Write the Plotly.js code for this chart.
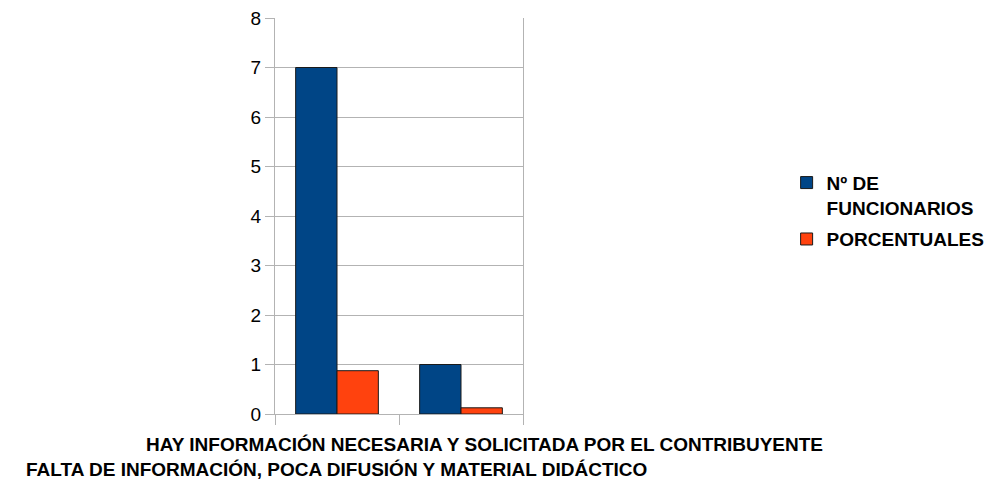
<!DOCTYPE html>
<html>
<head>
<meta charset="utf-8">
<script src="https://cdn.plot.ly/plotly-3.0.1.min.js"></script>
<style>html,body{margin:0;padding:0;background:#fff;}#chart{width:990px;height:483px;}</style>
</head>
<body>
<div id="chart"></div>
<script>
const categories = [
  "HAY INFORMACIÓN NECESARIA Y SOLICITADA POR EL CONTRIBUYENTE",
  "FALTA DE INFORMACIÓN, POCA DIFUSIÓN Y MATERIAL DIDÁCTICO"
];
const seriesNames = ["Nº DE<br>FUNCIONARIOS", "PORCENTUALES"];
const funcionarios = [7, 1];
const porcentuales = [0.875, 0.125];
const yTicks = [0, 1, 2, 3, 4, 5, 6, 7, 8];

const FONT = "Liberation Sans, Arial, sans-serif";
const traces = [
  {type: "bar", name: seriesNames[0], legendgroup: "a", x: categories, y: funcionarios,
   marker: {color: "#004586", line: {color: "#1a1a1a", width: 1}}},
  {type: "bar", name: seriesNames[1], legendgroup: "b", x: categories, y: porcentuales,
   marker: {color: "#ff420e", line: {color: "#1a1a1a", width: 1}}}
];

const layout = {
  width: 990, height: 483,
  margin: {l: 275, r: 467, t: 18, b: 69, pad: 0, autoexpand: false},
  paper_bgcolor: "#fff", plot_bgcolor: "#fff",
  barmode: "group", bargap: 0.333, bargroupgap: 0,
  showlegend: true,
  font: {family: FONT, size: 19, color: "#000"},
  xaxis: {
    type: "category", categoryarray: categories, categoryorder: "array",
    range: [-0.5, categories.length - 0.5], autorange: false,
    showticklabels: false,
    tickson: "boundaries", ticks: "outside", ticklen: 10, tickcolor: "#b3b3b3", tickwidth: 1,
    showline: true, linecolor: "#b3b3b3", linewidth: 1,
    showgrid: false, zeroline: false, fixedrange: true
  },
  yaxis: {
    range: [0, 8], autorange: false, tickvals: yTicks, ticktext: yTicks.map(String),
    ticks: "outside", ticklen: 9, tickcolor: "#b3b3b3", tickwidth: 1,
    showline: true, mirror: true, linecolor: "#b3b3b3", linewidth: 1,
    showgrid: true, gridcolor: "#b3b3b3", gridwidth: 1, zeroline: false,
    tickfont: {family: FONT, size: 19, color: "#000"}
  },
  legend: {
    x: 2.063, y: 0.632, xanchor: "left", yanchor: "top",
    valign: "top", bgcolor: "rgba(0,0,0,0)", traceorder: "grouped",
    font: {family: FONT, size: 19, color: "#000", weight: "bold"},
    itemclick: false, itemdoubleclick: false, tracegroupgap: 4
  },
  annotations: [
    {xref: "x", yref: "paper", x: categories[0], y: 0, xshift: 147, yshift: -30,
     xanchor: "center", yanchor: "middle", showarrow: false, text: "<b>" + categories[0] + "</b>",
     font: {family: FONT, size: 19, color: "#000"}},
    {xref: "x", yref: "paper", x: categories[1], y: 0, xshift: -125, yshift: -55,
     xanchor: "center", yanchor: "middle", showarrow: false, text: "<b>" + categories[1] + "</b>",
     font: {family: FONT, size: 19, color: "#000"}}
  ]
};

Plotly.newPlot("chart", traces, layout, {displayModeBar: false, staticPlot: true});
</script>
</body>
</html>
